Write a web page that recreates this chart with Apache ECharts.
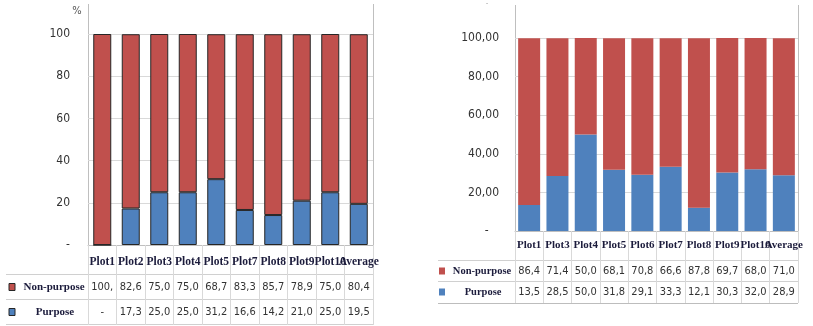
<!DOCTYPE html>
<html>
<head>
<meta charset="utf-8">
<script src="https://cdn.jsdelivr.net/npm/echarts@6/dist/echarts.min.js"></script>
<style>
  html, body { margin: 0; padding: 0; background: #fff; }
  #chart { width: 813px; height: 326px; }
</style>
</head>
<body>
<div id="chart"></div>
<script>
// Share of purpose / non-purpose per plot (two surveys), in percent
const leftCategories = ['Plot1', 'Plot2', 'Plot3', 'Plot4', 'Plot5', 'Plot7', 'Plot8', 'Plot9', 'Plot10', 'Average'];
const leftNonPurpose = [100, 82.6, 75.0, 75.0, 68.7, 83.3, 85.7, 78.9, 75.0, 80.4];
const leftPurpose    = [0, 17.3, 25.0, 25.0, 31.2, 16.6, 14.2, 21.0, 25.0, 19.5];

const rightCategories = ['Plot1', 'Plot3', 'Plot4', 'Plot5', 'Plot6', 'Plot7', 'Plot8', 'Plot9', 'Plot10', 'Average'];
const rightNonPurpose = [86.4, 71.4, 50.0, 68.1, 70.8, 66.6, 87.8, 69.7, 68.0, 71.0];
const rightPurpose    = [13.5, 28.5, 50.0, 31.8, 29.1, 33.3, 12.1, 30.3, 32.0, 28.9];

const seriesNames = ['Non-purpose', 'Purpose'];
const yTicks = [0, 20, 40, 60, 80, 100];

const RED = '#C0504D';
const BLUE = '#4F81BD';
const NARROW = '"Liberation Sans Narrow", "DejaVu Sans Condensed", sans-serif';
const SERIF = '"Liberation Serif", "DejaVu Serif", serif';
const LABEL_COLOR = '#1c1c3c';

// Table cells: comma decimals; the left table's first column is too narrow for "100,0"
const fmtLeft = v => v === 0 ? '-' : v.toFixed(1).replace('.', ',').slice(0, 4);
const fmtRight = v => v === 0 ? '-' : v.toFixed(1).replace('.', ',');

// Geometry of the two plot areas
const G1 = { left: 88, top: 34, width: 285, height: 211 };
const G2 = { left: 515, top: 38, width: 283, height: 193 };

function tableRowAxis(gridIndex, values, fmt, margin) {
  return {
    type: 'category', gridIndex, position: 'bottom',
    data: values.map(fmt),
    axisLine: { show: false }, axisTick: { show: false }, splitLine: { show: false },
    axisLabel: {
      interval: 0, margin, verticalAlign: 'middle',
      fontFamily: NARROW, fontSize: 11, color: '#333'
    }
  };
}

function hLine(x1, x2, y, color) {
  return { type: 'line', shape: { x1, y1: y, x2, y2: y }, style: { stroke: color, lineWidth: 1 }, silent: true };
}
function vLine(x, y1, y2, color) {
  return { type: 'line', shape: { x1: x, y1, x2: x, y2 }, style: { stroke: color, lineWidth: 1 }, silent: true };
}
function legendCell(x, y, color, stroke, name, cx, size) {
  return [
    { type: 'rect', shape: { x, y: y - 3.5, width: 6, height: 7 },
      style: { fill: color, stroke: stroke || null, lineWidth: stroke ? 1 : 0 } },
    { type: 'text', x: cx, y,
      style: { text: name, font: 'bold ' + size + 'px ' + SERIF, fill: LABEL_COLOR, align: 'center', verticalAlign: 'middle' } }
  ];
}

const chart = echarts.init(document.getElementById('chart'), null, { renderer: 'canvas' });

const option = {
  animation: false,
  backgroundColor: '#ffffff',
  grid: [
    Object.assign({ containLabel: false }, G1),
    Object.assign({ containLabel: false }, G2)
  ],
  xAxis: [
    {
      type: 'category', gridIndex: 0, data: leftCategories,
      axisLine: { lineStyle: { color: '#bfbfbf' } },
      axisTick: { show: true, length: 80, lineStyle: { color: '#d9d9d9' } },
      axisLabel: { interval: 0, margin: 17, verticalAlign: 'middle',
        fontFamily: SERIF, fontWeight: 'bold', fontSize: 11.5, color: LABEL_COLOR }
    },
    {
      type: 'category', gridIndex: 1, data: rightCategories,
      axisLine: { lineStyle: { color: '#bfbfbf' } },
      axisTick: { show: true, length: 72, lineStyle: { color: '#d9d9d9' } },
      axisLabel: { interval: 0, margin: 14, verticalAlign: 'middle',
        fontFamily: SERIF, fontWeight: 'bold', fontSize: 11, color: LABEL_COLOR }
    },
    tableRowAxis(0, leftNonPurpose, fmtLeft, 42),
    tableRowAxis(0, leftPurpose, fmtLeft, 67),
    tableRowAxis(1, rightNonPurpose, fmtRight, 40),
    tableRowAxis(1, rightPurpose, fmtRight, 61)
  ],
  yAxis: [
    {
      type: 'value', gridIndex: 0, min: yTicks[0], max: yTicks[yTicks.length - 1], interval: 20,
      axisLine: { show: false }, axisTick: { show: false },
      splitLine: { lineStyle: { color: '#d9d9d9' } },
      axisLabel: { margin: 18, fontFamily: NARROW, fontSize: 12, color: '#333',
        formatter: v => v === 0 ? '-' : String(v) }
    },
    {
      type: 'value', gridIndex: 1, min: yTicks[0], max: yTicks[yTicks.length - 1], interval: 20,
      axisLine: { show: false }, axisTick: { show: false },
      splitLine: { lineStyle: { color: '#d9d9d9' } },
      axisLabel: { margin: 16, fontFamily: NARROW, fontSize: 12, color: '#333',
        formatter: v => v === 0 ? '-   ' : v.toFixed(2).replace('.', ',') }
    }
  ],
  series: [
    { name: seriesNames[1], type: 'bar', stack: 'left', xAxisIndex: 0, yAxisIndex: 0,
      barWidth: 18, data: leftPurpose,
      itemStyle: { color: BLUE, borderColor: '#262626', borderWidth: 1 } },
    { name: seriesNames[0], type: 'bar', stack: 'left', xAxisIndex: 0, yAxisIndex: 0,
      barWidth: 18, data: leftNonPurpose,
      itemStyle: { color: RED, borderColor: '#262626', borderWidth: 1 } },
    { name: seriesNames[1], type: 'bar', stack: 'right', xAxisIndex: 1, yAxisIndex: 1,
      barWidth: 22, data: rightPurpose, itemStyle: { color: BLUE } },
    { name: seriesNames[0], type: 'bar', stack: 'right', xAxisIndex: 1, yAxisIndex: 1,
      barWidth: 22, data: rightNonPurpose, itemStyle: { color: RED } }
  ],
  graphic: [
    // unit label of the left chart
    { type: 'text', x: 77, y: 11,
      style: { text: '%', font: '11px ' + NARROW, fill: '#555', align: 'center', verticalAlign: 'middle' } },
    { type: 'text', x: 487, y: 4,
      style: { text: '-', font: '8px ' + NARROW, fill: '#999', align: 'center', verticalAlign: 'middle' } },
    // frames and table rules, left chart
    vLine(G1.left + 0.5, 4, 325, '#bfbfbf'),
    vLine(G1.left + G1.width + 0.5, 4, 325, '#bfbfbf'),
    hLine(6, G1.left + G1.width, 274.5, '#d0d0d0'),
    hLine(6, G1.left + G1.width, 299.5, '#d0d0d0'),
    hLine(6, G1.left + G1.width, 324.5, '#d0d0d0'),
    // frames and table rules, right chart
    vLine(G2.left + 0.5, 5, 303, '#bfbfbf'),
    vLine(G2.left + G2.width + 0.5, 5, 303, '#bfbfbf'),
    hLine(438, G2.left + G2.width, 260.5, '#d0d0d0'),
    hLine(438, G2.left + G2.width, 281.5, '#d0d0d0'),
    hLine(438, G2.left + G2.width, 303.5, '#bdbdbd'),
    // legend keys in the data tables
    ...legendCell(9, 287, RED, '#262626', seriesNames[0], 54, 11),
    ...legendCell(9, 312, BLUE, '#262626', seriesNames[1], 55, 11),
    ...legendCell(439, 271, RED, null, seriesNames[0], 482, 10.5),
    ...legendCell(439, 292, BLUE, null, seriesNames[1], 483, 10.5)
  ]
};

chart.setOption(option);
</script>
</body>
</html>
